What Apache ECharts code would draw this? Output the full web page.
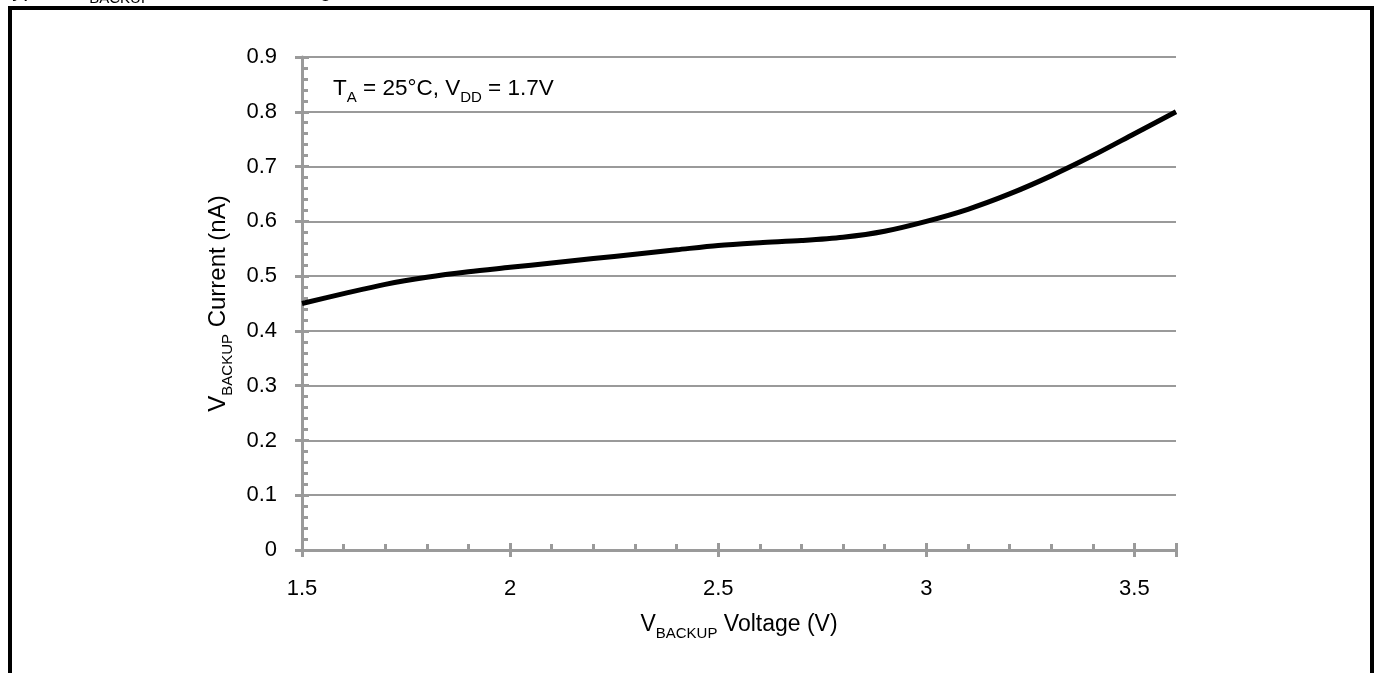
<!DOCTYPE html>
<html>
<head>
<meta charset="utf-8">
<script src="https://cdn.jsdelivr.net/npm/echarts@6/dist/echarts.min.js"></script>
<style>
html,body{margin:0;padding:0;background:#fff;}
#c{width:1378px;height:673px;}
</style>
</head>
<body>
<div id="c"></div>
<script>
const voltage = [1.5, 1.6, 1.7, 1.8, 1.9, 2.0, 2.1, 2.2, 2.3, 2.4, 2.5, 2.6, 2.7, 2.8, 2.9, 3.0, 3.1, 3.2, 3.3, 3.4, 3.5, 3.6];
const current = [0.45, 0.468, 0.485, 0.498, 0.508, 0.516, 0.524, 0.532, 0.540, 0.548, 0.556, 0.561, 0.565, 0.571, 0.582, 0.600, 0.622, 0.650, 0.683, 0.720, 0.760, 0.800];
const xTicks = [1.5, 2, 2.5, 3, 3.5];
const yTicks = [0, 0.1, 0.2, 0.3, 0.4, 0.5, 0.6, 0.7, 0.8, 0.9];

const FONT = '"Liberation Sans", Arial, sans-serif';
const GRAY = '#9a9a9a';
const chart = echarts.init(document.getElementById('c'), null, {renderer: 'canvas'});

function subStyle(main, small) {
  return {
    a: {fontSize: main, fontFamily: FONT, color: '#000'},
    s: {fontSize: small, fontFamily: FONT, color: '#000', verticalAlign: 'bottom', padding: [0, 0, -5, 0]}
  };
}

chart.setOption({
  animation: false,
  grid: {left: 302, right: 202, top: 57, bottom: 123, containLabel: false},
  xAxis: [{
    type: 'value', min: 1.5, max: 3.6, interval: 0.5,
    axisLine: {show: true, lineStyle: {color: GRAY, width: 3}},
    axisTick: {show: true, inside: true, length: 7, lineStyle: {color: GRAY, width: 3}},
    minorTick: {show: true, splitNumber: 5, length: 6, lineStyle: {color: GRAY, width: 3}},
    splitLine: {show: false},
    axisLabel: {margin: 28, fontSize: 22, fontFamily: FONT, color: '#000',
      formatter: v => xTicks.includes(+v.toFixed(2)) ? String(v) : ''},
    name: '{a|V}{s|BACKUP}{a| Voltage (V)}',
    nameLocation: 'middle', nameGap: 63,
    nameTextStyle: {rich: subStyle(23, 15)}
  }, {
    type: 'value', min: 1.5, max: 3.6, interval: 0.5, position: 'bottom',
    axisLine: {show: false},
    axisTick: {show: true, inside: false, length: 7, lineStyle: {color: GRAY, width: 3}},
    axisLabel: {show: false}, splitLine: {show: false}
  }],
  yAxis: [{
    type: 'value', min: 0, max: 0.9, interval: 0.1,
    axisLine: {show: true, lineStyle: {color: GRAY, width: 3}},
    axisTick: {show: true, inside: true, length: 7, lineStyle: {color: GRAY, width: 3}},
    minorTick: {show: true, splitNumber: 5, length: 6, lineStyle: {color: GRAY, width: 3}},
    splitLine: {show: true, lineStyle: {color: GRAY, width: 2}},
    axisLabel: {margin: 25, fontSize: 22, fontFamily: FONT, color: '#000',
      formatter: v => String(+v.toFixed(1))},
    name: '{a|V}{s|BACKUP}{a| Current (nA)}',
    nameLocation: 'middle', nameGap: 71,
    nameTextStyle: {rich: subStyle(24, 15)}
  }, {
    type: 'value', min: 0, max: 0.9, interval: 0.1, position: 'left',
    axisLine: {show: false},
    axisTick: {show: true, inside: false, length: 7, lineStyle: {color: GRAY, width: 3}},
    axisLabel: {show: false}, splitLine: {show: false}
  }],
  series: [{
    type: 'line',
    data: voltage.map((v, i) => [v, current[i]]),
    smooth: 0.3,
    showSymbol: false,
    lineStyle: {color: '#000', width: 5},
    z: 5
  }],
  graphic: [
    {type: 'text', left: 0, top: -21, style: {
      text: '{a|Typical V}{s|BACKUP}{a| Current vs. Voltage in Low Power State}',
      rich: subStyle(22, 15)}},
    {type: 'rect', shape: {x: 8, y: 6, width: 1366, height: 4}, style: {fill: '#000'}},
    {type: 'rect', shape: {x: 8, y: 6, width: 4, height: 667}, style: {fill: '#000'}},
    {type: 'rect', shape: {x: 1370, y: 6, width: 4, height: 667}, style: {fill: '#000'}},
    {type: 'text', left: 333, top: 77, style: {
      text: '{a|T}{s|A}{a| = 25°C, V}{s|DD}{a| = 1.7V}',
      rich: subStyle(22.5, 15)}}
  ]
});
</script>
</body>
</html>
